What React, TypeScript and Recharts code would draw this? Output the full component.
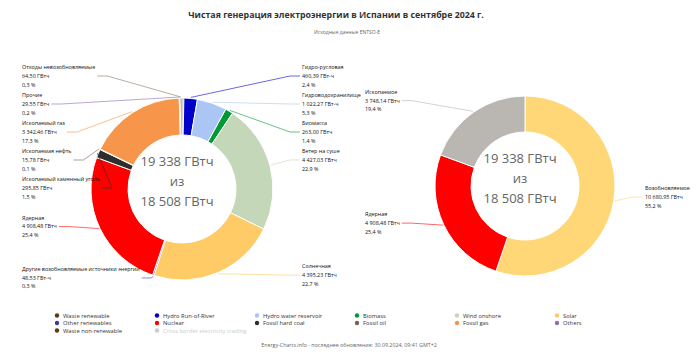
import { PieChart, Pie, Cell } from 'recharts';

const sourceKeys = [
  'Waste renewable', 'Hydro Run-of-River', 'Hydro water reservoir', 'Biomass', 'Wind onshore', 'Solar',
  'Other renewables', 'Nuclear', 'Fossil hard coal', 'Fossil oil', 'Fossil gas', 'Others', 'Waste non-renewable',
];
const sourceNames = [
  'Отходы возобновляемые', 'Гидро-русловая', 'Гидроводохранилище', 'Биомасса', 'Ветер на суше', 'Солнечная',
  'Другие возобновляемые источники энергии', 'Ядерная', 'Ископаемый каменный уголь', 'Ископаемая нефть',
  'Ископаемый газ', 'Прочие', 'Отходы невозобновляемые',
];
const sourceValues = [64.5, 460.39, 1022.27, 263.0, 4427.03, 4395.23, 48.53, 4908.48, 295.85, 15.78, 3342.46, 29.55, 64.5];
const sourceUnits = ['ГВтч', 'ГВт-ч', 'ГВт-ч', 'ГВтч', 'ГВтч', 'ГВтч', 'ГВт-ч', 'ГВтч', 'ГВтч', 'ГВтч', 'ГВтч', 'ГВтч', 'ГВтч'];
const sourceColors = [
  '#6e4a25', '#0000cc', '#abc6f5', '#009933', '#c4d8b9', '#ffcb66',
  '#3a3aa0', '#ff0000', '#2e2e2e', '#7f5f4a', '#f7964a', '#8f6db5', '#8c7560',
];
const sourceLabelShown = [false, true, true, true, true, true, true, true, true, true, true, true, true];

const groupNames = ['Возобновляемое', 'Ядерная', 'Ископаемое'];
const groupValues = [10680.95, 4908.48, 3748.14];
const groupUnits = ['ГВтч', 'ГВтч', 'ГВтч'];
const groupColors = ['#ffd776', '#ff0000', '#bab6b2'];
const groupLabelShown = [true, true, true];

const legendNames = [...sourceKeys, 'Cross border electricity trading'];
const legendColors = ['#5a3a18', '#0000cc', '#abc6f5', '#009933', '#c4d8b9', '#ffcb66', '#3a3aa0', '#ff0000', '#2e2e2e', '#7f5f4a', '#f7964a', '#8f6db5', '#5a3a18', '#cccccc'];

const centerLines = ['19 338 ГВтч', 'из', '18 508 ГВтч'];

const W = 700;
const H = 358;
const FONT = '"Open Sans", "Noto Sans", sans-serif';
const LABEL_SIZE = 5.4;
const LINE = 8.6;
const GAP = 28;
const TOP = 76;
const BOTTOM = 279;

const left = { cx: 177, cy: 184, r: 91, ir: 54 };
const right = { cx: 520, cy: 181, r: 90, ir: 54 };

const fmt = (v: number, d: number) => {
  const [a, b] = v.toFixed(d).split('.');
  const int = a.replace(/\B(?=(\d{3})+(?!\d))/g, ' ');
  return b ? `${int},${b}` : int;
};

let ctx: CanvasRenderingContext2D | null = null;
const textWidth = (s: string) => {
  if (!ctx) ctx = document.createElement('canvas').getContext('2d');
  if (!ctx) return s.length * 3;
  ctx.font = `${LABEL_SIZE}px "Open Sans"`;
  return ctx.measureText(s).width;
};

type Box = { i: number; side: number; target: number; y: number };

function distribute(boxes: Box[]) {
  boxes.sort((a, b) => a.target - b.target);
  let groups = boxes.map((b) => ({ items: [b], start: 0 }));
  const place = () => {
    groups.forEach((g) => {
      const mean = g.items.reduce((s, b) => s + b.target, 0) / g.items.length;
      const span = (g.items.length - 1) * GAP;
      let start = mean - span / 2;
      if (start < TOP) start = TOP;
      if (start + span > BOTTOM) start = BOTTOM - span;
      g.start = start;
    });
  };
  let changed = true;
  while (changed) {
    changed = false;
    place();
    for (let k = 1; k < groups.length; k++) {
      const prev = groups[k - 1];
      if (groups[k].start < prev.start + prev.items.length * GAP - 0.01) {
        prev.items = prev.items.concat(groups[k].items);
        groups = groups.filter((_, j) => j !== k);
        changed = true;
        break;
      }
    }
  }
  groups.forEach((g) => g.items.forEach((b, j) => (b.y = g.start + j * GAP)));
}

function layoutLabels(values: number[], shown: boolean[], cy: number, r: number) {
  const total = values.reduce((s, v) => s + v, 0);
  let acc = 0;
  const boxes: Box[] = values.map((v, i) => {
    const theta = ((acc + v / 2) / total) * Math.PI * 2;
    acc += v;
    const target = cy - (r + 8) * Math.cos(theta);
    return { i, side: Math.sin(theta) >= 0 ? 1 : -1, target, y: target };
  });
  const visible = boxes.filter((b) => shown[b.i]);
  distribute(visible.filter((b) => b.side > 0));
  distribute(visible.filter((b) => b.side < 0));
  return boxes;
}

function makeLabel(
  values: number[], names: string[], units: string[], colors: string[], shown: boolean[], geo: { cx: number; cy: number; r: number },
) {
  const total = values.reduce((s, v) => s + v, 0);
  const boxes = layoutLabels(values, shown, geo.cy, geo.r);
  return (p: any) => {
    const i = p.index;
    if (!shown[i]) return <g key={`l${i}`} />;
    const b = boxes[i];
    const RAD = Math.PI / 180;
    const px = p.cx + (p.outerRadius + 1) * Math.cos(-p.midAngle * RAD);
    const py = p.cy + (p.outerRadius + 1) * Math.sin(-p.midAngle * RAD);
    const lines = [names[i], `${fmt(values[i], 2)} ${units[i]}`, `${fmt((values[i] / total) * 100, 1)} %`];
    const wMax = Math.max(...lines.map(textWidth));
    const tx = b.side > 0 ? p.cx + 120 : p.cx - 160;
    const ex = b.side > 0 ? tx - 2 : tx + wMax + 2;
    const bx = ex + b.side * -10;
    return (
      <g key={`l${i}`}>
        <polyline
          points={`${px},${py} ${bx},${b.y} ${ex},${b.y}`}
          fill="none"
          stroke={colors[i]}
          strokeOpacity={0.75}
          strokeWidth={0.8}
        />
        {lines.map((t, k) => (
          <text
            key={k}
            x={tx}
            y={b.y + (k - 1) * LINE + 1.9}
            fontSize={LABEL_SIZE}
            fontFamily={FONT}
            fill="#111"
            textAnchor="start"
          >
            {t}
          </text>
        ))}
      </g>
    );
  };
}

export default function App() {
  const sourceData = sourceKeys.map((k, i) => ({ name: k, value: sourceValues[i] }));
  const groupData = groupNames.map((k, i) => ({ name: k, value: groupValues[i] }));

  return (
    <div style={{ position: 'absolute', left: 0, top: 0, width: W, height: H, background: '#fff' }}>
      <PieChart width={W} height={H}>
        <Pie
          data={sourceData}
          dataKey="value"
          cx={left.cx}
          cy={left.cy}
          outerRadius={left.r}
          innerRadius={left.ir}
          startAngle={90}
          endAngle={-270}
          stroke="#fff"
          strokeWidth={1}
          labelLine={false}
          label={makeLabel(sourceValues, sourceNames, sourceUnits, sourceColors, sourceLabelShown, left)}
          isAnimationActive={false}
        >
          {sourceData.map((d, i) => (
            <Cell key={d.name} fill={sourceColors[i]} />
          ))}
        </Pie>
        <Pie
          data={groupData}
          dataKey="value"
          cx={right.cx}
          cy={right.cy}
          outerRadius={right.r}
          innerRadius={right.ir}
          startAngle={90}
          endAngle={-270}
          stroke="#fff"
          strokeWidth={1}
          labelLine={false}
          label={makeLabel(groupValues, groupNames, groupUnits, groupColors, groupLabelShown, right)}
          isAnimationActive={false}
        >
          {groupData.map((d, i) => (
            <Cell key={d.name} fill={groupColors[i]} />
          ))}
        </Pie>
      </PieChart>
      <svg
        width={W}
        height={H}
        style={{ position: 'absolute', left: 0, top: 0, pointerEvents: 'none' }}
        fontFamily={FONT}
      >
        <text x={336} y={18} textAnchor="middle" fontSize={8.8} fontWeight={700} fill="#333">
          Чистая генерация электроэнергии в Испании в сентябре 2024 г.
        </text>
        <text x={347} y={34} textAnchor="middle" fontSize={5} fill="#666">
          Исходные данные ENTSO-E
        </text>
        {[left, right].map((g, gi) =>
          centerLines.map((t, k) => (
            <text
              key={`c${gi}${k}`}
              x={g.cx}
              y={g.cy - 23 + k * 20 + 5}
              textAnchor="middle"
              fontSize={13}
              fill="#666"
            >
              {t}
            </text>
          )),
        )}
        {legendNames.map((n, i) => {
          const col = i % 6;
          const row = Math.floor(i / 6);
          const x = 57 + col * 100;
          const y = 315.5 + row * 7.5;
          const last = i === legendNames.length - 1;
          return (
            <g key={n}>
              <circle cx={x} cy={y} r={2.2} fill={legendColors[i]} />
              <text x={x + 6} y={y + 2} fontSize={5.8} fill={last ? '#cccccc' : '#333'}>
                {n}
              </text>
            </g>
          );
        })}
        <text x={349} y={347} textAnchor="middle" fontSize={5.3} fill="#666">
          Energy-Charts.info - последнее обновление: 30.09.2024, 09:41 GMT+2
        </text>
      </svg>
    </div>
  );
}
